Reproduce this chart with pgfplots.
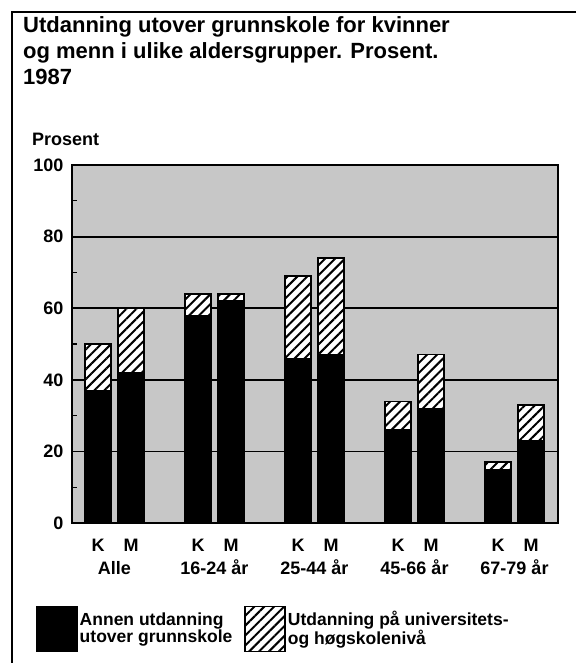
\documentclass[border=0pt]{standalone}
\usepackage{pgfplots}
\pgfplotsset{compat=1.18}
\usepackage{pgfplotstable}
\usepackage{fontspec}
\setmainfont{Liberation Sans}
\usetikzlibrary{patterns,patterns.meta}

\pgfplotstableread{
x black hatch
0    37 13
0.33 42 18
1    58 6
1.33 62 2
2    46 23
2.33 47 27
3    26 8
3.33 32 15
4    15 2
4.33 23 10
}\datatable

\begin{document}
\begin{tikzpicture}
\useasboundingbox (0pt,0pt) rectangle (576pt,-663pt);
\draw[line width=2pt] (576pt,-12pt) -- (12pt,-12pt) -- (12pt,-663pt);
\node[anchor=base west, inner sep=0pt, font=\fontsize{22}{26}\selectfont\bfseries] at (23pt,-33pt) {Utdanning utover grunnskole for kvinner};
\node[anchor=base west, inner sep=0pt, font=\fontsize{22}{26}\selectfont\bfseries] at (23pt,-59pt) {og menn i ulike aldersgrupper. Prosent.};
\node[anchor=base west, inner sep=0pt, font=\fontsize{22}{26}\selectfont\bfseries] at (23pt,-85pt) {1987};
\node[anchor=base west, inner sep=0pt, font=\fontsize{18}{18}\selectfont\bfseries] at (32pt,-146pt) {Prosent};
\begin{axis}[
  at={(72pt,-523pt)}, anchor=south west,
  scale only axis, width=486pt, height=358pt,
  xmin=-0.26, xmax=4.60, ymin=0, ymax=100,
  ybar stacked, bar width=26pt,
  axis background/.style={fill=black!22},
  ytick={0,20,...,100}, minor ytick={10,30,...,90},
  ymajorgrids, major grid style={line width=1.8pt, black},
  axis line style={line width=2pt},
  major tick length=0pt, minor tick length=5pt, tick align=inside,
  ytick pos=left, xtick pos=bottom,
  minor tick style={line width=1.2pt, black},
  xtick={0,0.33,1,1.33,2,2.33,3,3.33,4,4.33},
  xticklabels={K,M,K,M,K,M,K,M,K,M},
  extra x ticks={0.165,1.165,2.165,3.165,4.165},
  extra x tick labels={Alle,16-24 år,25-44 år,45-66 år,67-79 år},
  extra x tick style={grid=none, major tick length=0pt,
     tick label style={yshift=-23pt, font=\fontsize{18}{18}\selectfont\bfseries}},
  /pgf/number format/assume math mode=true,
  yticklabel style={font=\fontsize{18}{18}\selectfont\bfseries, xshift=-5pt},
  xticklabel style={font=\fontsize{18}{18}\selectfont\bfseries, yshift=-12pt,
     text height=13pt, text depth=4pt},
  legend style={at={(-0.074,-0.230)}, anchor=north west, draw=none, fill=none,
     legend columns=2, font=\fontsize{17.5}{17}\selectfont\bfseries,
     cells={align=left, anchor=west}, inner sep=0pt,
     /tikz/every even column/.append style={column sep=10pt}},
  legend image code/.code={\draw[#1, line width=1.5pt] (0pt,-22.5pt) rectangle (40pt,22.5pt);},
]
\addplot[fill=black, draw=black, line width=1.5pt] table[x=x, y=black] {\datatable};
\addlegendentry{Annen utdanning\\utover grunnskole}
\addplot[fill=white, draw=black, line width=1.5pt,
  postaction={pattern={Lines[angle=45, distance=7pt, line width=2pt]}}] table[x=x, y=hatch] {\datatable};
\addlegendentry{Utdanning på universitets-\\og høgskolenivå}
\end{axis}
\end{tikzpicture}
\end{document}
